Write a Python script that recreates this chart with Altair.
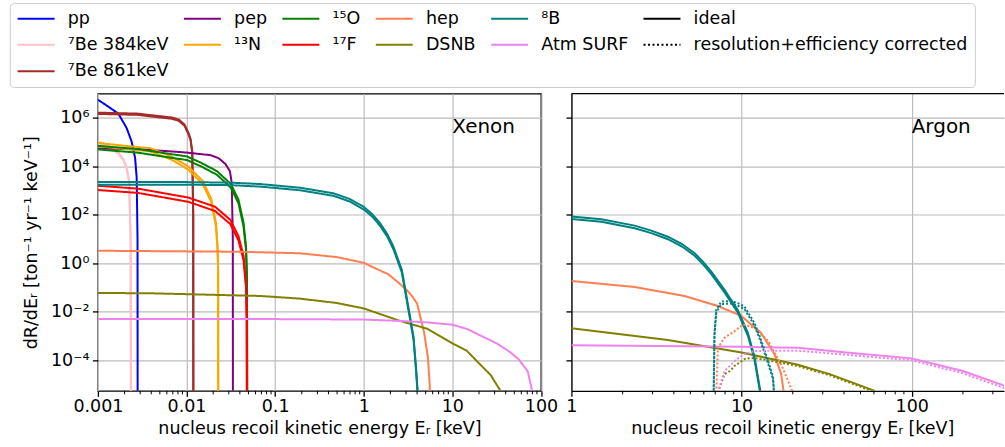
import altair as alt
import pandas as pd

# ---------------- categories / styling lists ----------------
SOURCES = ["pp", "⁷Be 384keV", "⁷Be 861keV", "pep", "¹³N", "¹⁵O", "¹⁷F",
           "hep", "DSNB", "⁸B", "Atm SURF"]
SOURCE_COLORS = ["#0000ff", "#ffc0cb", "#a52a2a", "#800080", "#ffa500", "#008000",
                 "#ff0000", "#ff7f50", "#808000", "#008080", "#ee82ee"]
SOURCE_UNC = [0.0, 0.06, 0.06, 0.0, 0.15, 0.17, 0.20, 0.0, 0.0, 0.12, 0.0]
STYLES = ["ideal", "resolution+efficiency corrected"]
STYLE_COLORS = ["#000000", "#000000"]
LEGEND_ORDER = ["pp", "pep", "¹⁵O", "hep", "⁸B", "ideal",
                "⁷Be 384keV", "¹³N", "¹⁷F", "DSNB", "Atm SURF", "resolution+efficiency corrected",
                "⁷Be 861keV"]
PANELS = ["Xenon", "Argon"]
PANEL_LABEL_E = [10.0, 100.0]
PANEL_LABEL_R = [2.3e5, 2.3e5]

X_TICKS_XE = [0.001, 0.01, 0.1, 1, 10, 100]
X_TICKS_AR = [1, 10, 100]
Y_TICKS = [1e-4, 1e-2, 1, 1e2, 1e4, 1e6]

# ---------------- Xenon, ideal spectra (E in keV, dR/dE) ----------------
XE_PP_E = [0.001, 0.00115, 0.00131, 0.0017, 0.00211, 0.0024, 0.00263, 0.00274, 0.0028, 0.00281]
XE_PP_R = [5.6e6, 4.0e6, 2.9e6, 1.5e6, 3.8e5, 1.07e5, 2.2e4, 3.3e3, 1e1, 1e-7]
XE_BE384_E = [0.001, 0.00131, 0.0017, 0.00194, 0.00211, 0.00225, 0.00234, 0.00236]
XE_BE384_R = [1.0e5, 7.1e4, 3.5e4, 1.9e4, 8.5e3, 2.4e3, 1e1, 1e-7]
XE_BE861_E = [0.001, 0.00286, 0.0039, 0.0068, 0.0082, 0.0095, 0.0105, 0.0111, 0.0116, 0.0119, 0.01195]
XE_BE861_R = [1.55e6, 1.41e6, 1.23e6, 9.8e5, 8.0e5, 5.0e5, 2.3e5, 1.3e5, 4.0e4, 1e2, 1e-7]
XE_PEP_E = [0.001, 0.00316, 0.0093, 0.0186, 0.0229, 0.0275, 0.0309, 0.0324, 0.0333, 0.0334]
XE_PEP_R = [5.5e4, 5.0e4, 3.8e4, 2.9e4, 2.2e4, 1.26e4, 6.3e3, 2.0e3, 1e1, 1e-7]
XE_N13_E = [0.001, 0.00286, 0.0039, 0.0068, 0.0103, 0.0152, 0.019, 0.0215, 0.0224, 0.02275, 0.0228]
XE_N13_R = [8.0e4, 5.4e4, 4.9e4, 2.2e4, 9.0e3, 2.2e3, 4.0e2, 4.0e1, 4.4, 0.5, 1e-7]
XE_O15_E = [0.001, 0.00286, 0.0068, 0.0101, 0.0148, 0.0221, 0.0251, 0.0316, 0.0386, 0.044, 0.0469, 0.0481, 0.0485]
XE_O15_R = [6.0e4, 4.4e4, 2.7e4, 2.2e4, 1.17e4, 5.4e3, 3.5e3, 1.6e3, 3.6e2, 4.0e1, 4.4, 0.25, 1e-7]
XE_F17_E = [0.001, 0.00286, 0.0105, 0.021, 0.0312, 0.0386, 0.044, 0.0469, 0.0478, 0.0481]
XE_F17_R = [1.32e3, 1.0e3, 4.3e2, 1.8e2, 52, 11, 1.7, 0.13, 5e-3, 1e-7]
XE_HEP_E = [0.001, 0.04, 0.19, 0.5, 1.0, 1.9, 2.47, 3.1, 3.5, 4.0, 4.8, 5.3, 5.55, 5.7]
XE_HEP_R = [3.3, 3.0, 2.6, 1.8, 1.05, 0.35, 0.16, 0.075, 0.045, 0.022, 1.4e-3, 1.3e-4, 1e-5, 1e-7]
XE_DSNB_E = [0.001, 0.004, 0.068, 0.19, 0.5, 1.0, 2.57, 5.2, 10.0, 14.5, 20.0, 27.0, 34.5, 38.0]
XE_DSNB_R = [0.06, 0.058, 0.045, 0.035, 0.023, 0.0138, 4.2e-3, 2.0e-3, 5.0e-4, 2.5e-4, 7.5e-5, 2.5e-5, 5.9e-6, 2e-6]
XE_ATM_E = [0.001, 0.1, 1.0, 2.57, 5.0, 10.0, 15.0, 20.0, 31.6, 44.7, 56.0, 71.0, 79.4, 82.0]
XE_ATM_R = [5.0e-3, 5.0e-3, 4.8e-3, 4.2e-3, 3.7e-3, 2.95e-3, 1.9e-3, 1.12e-3, 5.0e-4, 2.2e-4, 1.1e-4, 3.5e-5, 5.4e-6, 1e-7]
XE_B8_E = [0.001, 0.01, 0.0316, 0.068, 0.192, 0.455, 0.7, 1.0, 1.25, 1.53, 1.85, 2.16, 2.69, 3.0, 3.3, 3.65, 3.9, 4.05, 4.2]
XE_B8_R = [2.0e3, 2.0e3, 1.9e3, 1.66e3, 1.17e3, 6.9e2, 4.0e2, 1.9e2, 95, 40, 14, 4.4, 0.48, 0.05, 6.8e-3, 8e-4, 4e-5, 5e-6, 1e-7]

# ---------------- Argon, ideal spectra ----------------
AR_B8_E = [1.0, 1.5, 2.355, 2.95, 3.69, 4.47, 5.3, 5.96, 6.64, 7.94, 9.5, 10.9, 11.9, 12.9]
AR_B8_R = [76, 59, 32, 20, 11.2, 5.6, 2.34, 1.0, 0.41, 0.072, 0.0107, 1.17e-3, 1.29e-4, 4.7e-6]
AR_HEP_E = [1.0, 2.355, 4.62, 7.26, 9.95, 13.0, 15.6, 17.1, 17.7]
AR_HEP_R = [0.186, 0.105, 0.0447, 0.0174, 6.8e-3, 1.38e-3, 1.78e-4, 2.7e-5, 4.7e-6]
AR_DSNB_E = [1.0, 3.69, 10.0, 16.8, 21.4, 33.0, 60.7]
AR_DSNB_R = [2.1e-3, 6.8e-4, 2.1e-4, 9.5e-5, 6.5e-5, 2.7e-5, 5.5e-6]
AR_ATM_E = [1.0, 10.0, 21.4, 41.4, 100.0, 200.0, 352.0]
AR_ATM_R = [4.2e-4, 3.6e-4, 3.3e-4, 2.1e-4, 1.2e-4, 3.6e-5, 8.9e-6]

# ---------------- Argon, resolution+efficiency corrected ----------------
AR_B8C_E = [6.855, 6.93, 7.1, 7.59, 8.69, 9.5, 10.4, 11.9, 12.8, 13.6, 15.3, 15.5]
AR_B8C_R = [4.7e-6, 1.2e-3, 0.0107, 0.0234, 0.025, 0.0204, 0.0148, 3.1e-3, 8.5e-4, 2.5e-4, 1.95e-5, 5e-6]
AR_HEPC_E = [7.1, 7.26, 7.94, 9.1, 10.2, 11.9, 14.3, 17.1, 20.0]
AR_HEPC_R = [4.7e-6, 3.3e-4, 8.5e-4, 1.6e-3, 3.0e-3, 2.2e-3, 6.3e-4, 6.9e-5, 4.7e-6]
AR_DSNBC_E = [7.26, 7.94, 8.55, 9.1, 10.5, 11.8, 14.3, 21.4, 33.0, 58.0]
AR_DSNBC_R = [4.7e-6, 2.7e-5, 3.6e-5, 5.9e-5, 1.15e-4, 1.25e-4, 1.0e-4, 5.8e-5, 2.4e-5, 5.5e-6]
AR_ATMC_E = [7.26, 7.94, 9.2, 10.4, 12.0, 17.1, 21.4, 100.0, 200.0, 352.0]
AR_ATMC_R = [4.7e-6, 3.6e-5, 1.0e-4, 1.8e-4, 2.4e-4, 2.5e-4, 2.5e-4, 1.0e-4, 2.9e-5, 7.1e-6]

# ---------------- build tables ----------------
unc_of = dict(zip(SOURCES, SOURCE_UNC))
rows = []


def add(panel, kind, source, E, R):
    u = unc_of[source]
    bounds = [("lo", 1 - u), ("hi", 1 + u)] if u > 0 else [("mid", 1.0)]
    for b, f in bounds:
        for i, (e, r) in enumerate(zip(E, R)):
            rows.append({"panel": panel, "kind": kind, "source": source, "bound": b,
                         "E": e, "Rb": r * f, "lo": r * (1 - u), "hi": r * (1 + u),
                         "band": u > 0, "i": i})


add("Xenon", "ideal", "pp", XE_PP_E, XE_PP_R)
add("Xenon", "ideal", "⁷Be 384keV", XE_BE384_E, XE_BE384_R)
add("Xenon", "ideal", "⁷Be 861keV", XE_BE861_E, XE_BE861_R)
add("Xenon", "ideal", "pep", XE_PEP_E, XE_PEP_R)
add("Xenon", "ideal", "¹³N", XE_N13_E, XE_N13_R)
add("Xenon", "ideal", "¹⁵O", XE_O15_E, XE_O15_R)
add("Xenon", "ideal", "¹⁷F", XE_F17_E, XE_F17_R)
add("Xenon", "ideal", "hep", XE_HEP_E, XE_HEP_R)
add("Xenon", "ideal", "DSNB", XE_DSNB_E, XE_DSNB_R)
add("Xenon", "ideal", "⁸B", XE_B8_E, XE_B8_R)
add("Xenon", "ideal", "Atm SURF", XE_ATM_E, XE_ATM_R)
add("Argon", "ideal", "hep", AR_HEP_E, AR_HEP_R)
add("Argon", "ideal", "DSNB", AR_DSNB_E, AR_DSNB_R)
add("Argon", "ideal", "⁸B", AR_B8_E, AR_B8_R)
add("Argon", "ideal", "Atm SURF", AR_ATM_E, AR_ATM_R)
add("Argon", "corrected", "hep", AR_HEPC_E, AR_HEPC_R)
add("Argon", "corrected", "DSNB", AR_DSNBC_E, AR_DSNBC_R)
add("Argon", "corrected", "⁸B", AR_B8C_E, AR_B8C_R)
add("Argon", "corrected", "Atm SURF", AR_ATMC_E, AR_ATMC_R)
df = pd.DataFrame(rows)
labels_df = pd.DataFrame({"panel": PANELS, "E": PANEL_LABEL_E, "R": PANEL_LABEL_R})

color_of = dict(zip(SOURCES + STYLES, SOURCE_COLORS + STYLE_COLORS))
color_scale = alt.Scale(domain=LEGEND_ORDER, range=[color_of[s] for s in LEGEND_ORDER])
dash_scale = alt.Scale(domain=LEGEND_ORDER,
                       range=[[2, 2.5] if s == STYLES[1] else [1, 0] for s in LEGEND_ORDER])
fill_scale = alt.Scale(domain=SOURCES, range=SOURCE_COLORS)

SUP = {-4: "⁻⁴", -2: "⁻²", 0: "⁰", 2: "²", 4: "⁴", 6: "⁶"}
y_label_expr = " : ".join(
    f"round(log(datum.value)/LN10) == {k} ? '10{v}'" for k, v in SUP.items()) + " : ''"

H = 297.5
W_XE = 443.5
W_AR = 433
Y_DOM = [5.5e-6, 1e7]
X_DOM_XE = [0.001, 100]
X_DOM_AR = [1, 10 ** (433 / 170.3)]
XTITLE = "nucleus recoil kinetic energy Eᵣ [keV]"
YTITLE = "dR/dEᵣ  [ton⁻¹ yr⁻¹ keV⁻¹]"

legend = alt.Legend(
    title=None, orient="none", legendX=-88.2, legendY=-90.6, columns=6, direction="horizontal",
    symbolType="M-1,0H4", symbolSize=219, symbolStrokeWidth=2,
    labelFont="DejaVu Sans", labelFontSize=17.5, labelColor="black", labelLimit=500,
    labelOffset=34, columnPadding=10.5, rowPadding=7.5, padding=6.5,
    strokeColor="#cccccc", cornerRadius=4, fillColor="#ffffff",
)


def make_panel(pname, xdom, width, xticks, left):
    d = df[df.panel == pname]
    xs = alt.Scale(type="log", domain=xdom, nice=False)
    ys = alt.Scale(type="log", domain=Y_DOM, nice=False)
    if left:
        xaxis = alt.Axis(values=xticks, labelExpr="format(datum.value, '~g')", title=XTITLE,
                         grid=True, domain=False, tickSize=5.5, labelFlush=False,
                         labelOverlap=False, labelPadding=1.5, titlePadding=4)
        yaxis = alt.Axis(values=Y_TICKS, labelExpr=y_label_expr,
                         title=YTITLE, grid=True, domain=False,
                         tickSize=5.5, labelPadding=3.5, titlePadding=10, labelOverlap=False,
                         labelFlush=False)
    else:
        xaxis = alt.Axis(values=xticks, labelExpr="format(datum.value, '~g')", title=XTITLE,
                         grid=True, domain=True, tickSize=5.5, labelFlush=False,
                         labelOverlap=False, labelPadding=1.5, titlePadding=4, titleX=221)
        yaxis = alt.Axis(values=Y_TICKS, labels=False, title=None, grid=True, domain=True,
                         tickSize=5.5)
    X = lambda f="E:Q": alt.X(f, scale=xs, axis=xaxis, title=XTITLE)
    Y = lambda f: alt.Y(f, scale=ys, axis=yaxis, title=YTITLE if left else None)

    enc = dict(
        x=X(), y=Y("Rb:Q"),
        color=alt.Color("source:N", scale=color_scale, legend=legend if left else None),
        detail="bound:N",
        order="i:Q",
    )
    if left:
        enc["strokeDash"] = alt.StrokeDash("source:N", scale=dash_scale, legend=legend)
    solid = alt.Chart(d[d.kind == "ideal"]).mark_line(clip=True, strokeWidth=2).encode(**enc)
    layers = []
    band_d = d[(d.kind == "ideal") & (d.band) & (d.bound == "lo")]
    if len(band_d):
        area = alt.Chart(band_d).mark_area(clip=True, opacity=0.3).encode(
            x=X(), y=Y("lo:Q"), y2="hi:Q",
            fill=alt.Fill("source:N", scale=fill_scale, legend=None),
            order="i:Q",
        )
        layers.append(area)
    layers.append(solid)
    corr = d[d.kind == "corrected"]
    if len(corr):
        dotted = alt.Chart(corr).mark_line(clip=True, strokeWidth=2, strokeDash=[2, 2]).encode(
            x=X(), y=Y("Rb:Q"),
            color=alt.Color("source:N", scale=color_scale, legend=None),
            detail="bound:N",
            order="i:Q",
        )
        layers.append(dotted)
    lo, hi = xdom
    minor = [k * 10.0 ** p for p in range(-4, 4) for k in range(2, 10) if lo < k * 10.0 ** p < hi]
    minor_ticks = alt.Chart(pd.DataFrame({"E": minor})).mark_rule(color="black", strokeWidth=1).encode(
        x=X(), y=alt.value(H), y2=alt.value(H + 3.5))
    layers.append(minor_ticks)
    text = alt.Chart(labels_df[labels_df.panel == pname]).mark_text(
        align="left", baseline="alphabetic", fontSize=20, font="DejaVu Sans", color="black").encode(
        x=X(), y=Y("R:Q"), text="panel:N")
    layers.append(text)
    if not left:
        spine = alt.Chart(pd.DataFrame({"a": [0]})).mark_rule(color="black", strokeWidth=1.3).encode(
            x=alt.value(0), x2=alt.value(width), y=alt.value(0))
        layers.append(spine)
    ch = alt.layer(*layers).properties(width=width, height=H)
    if not left:
        ch = ch.properties(view=alt.ViewBackground(stroke=None))
    return ch


left = make_panel("Xenon", X_DOM_XE, W_XE, X_TICKS_XE, True)
right = make_panel("Argon", X_DOM_AR, W_AR, X_TICKS_AR, False)

chart = alt.hconcat(left, right, spacing=6).properties(
    padding={"left": 9, "top": 1.5, "right": 0, "bottom": 0}
).configure_axis(
    labelFont="DejaVu Sans", titleFont="DejaVu Sans", labelFontSize=17.5, titleFontSize=17.5,
    titleFontWeight="normal", labelColor="black", titleColor="black", tickColor="black",
    tickWidth=1.3, domainColor="black", domainWidth=1.3, gridColor="#bcbcbc", gridWidth=1.2,
).configure_view(stroke="black", strokeWidth=1.3)

chart.save("out.html", embed_options={"renderer": "svg", "actions": False})
